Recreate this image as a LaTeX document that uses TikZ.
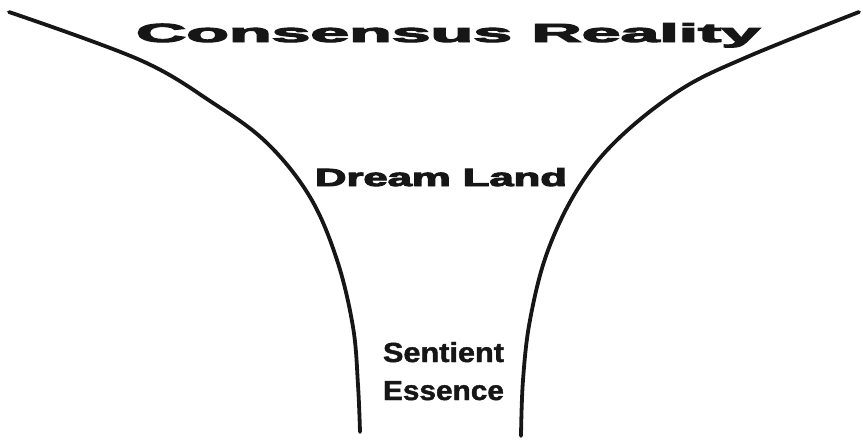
\documentclass[tikz,border=0pt]{standalone}
\usepackage{fontspec}
\usepackage{graphicx}
\newfontfamily\heavyfont[FakeBold=3.5]{Liberation Sans Bold}
\newfontfamily\boldfont[FakeBold=1.5]{Liberation Sans Bold}
\definecolor{ink}{HTML}{161616}
\tikzset{
  funnel/.style={draw=ink, line width=3.8pt, line cap=round},
  label/.style={anchor=base west, inner sep=0pt, outer sep=0pt, text=ink}
}
\begin{document}
\begin{tikzpicture}[x=1pt,y=-1pt]
\useasboundingbox (0,0) rectangle (863,440);
% left wall
\draw[funnel] plot[smooth, tension=0.6] coordinates {(9,12) (140,60) (213,103) (267,143) (310,197) (337,260) (353,327) (358,385) (360,432)};
% right wall
\draw[funnel] plot[smooth, tension=0.6] coordinates {(859,12) (747,57) (680,90) (617,140) (577,190) (547,253) (530,320) (523,380) (521,436)};
\node[label] (cr) at (136,42) {\resizebox{624pt}{19pt}{\heavyfont Consensus Reality}};
\node[label] (dl) at (315,186) {\resizebox{252pt}{18pt}{\heavyfont Dream Land}};
\node[label] (se) at (383,362) {\resizebox{121pt}{20pt}{\boldfont Sentient}};
\node[label] (es) at (383,400) {\resizebox{121pt}{19pt}{\boldfont Essence}};
\end{tikzpicture}
\end{document}
